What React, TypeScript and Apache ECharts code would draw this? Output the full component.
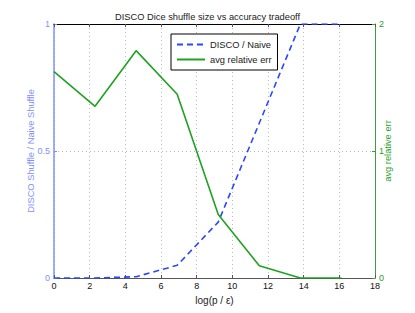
import React, { useEffect, useRef } from "react";
import * as echarts from "echarts";

const xValues = [0, 2.303, 4.605, 6.908, 9.21, 11.513, 13.816, 16.118];
const discoRatio = [0, 0, 0.005, 0.05, 0.22, 0.61, 1, 1];
const avgRelErr = [1.625, 1.352, 1.79, 1.447, 0.5, 0.097, 0, 0];
const xTicks = [0, 2, 4, 6, 8, 10, 12, 14, 16, 18];
const leftTicks = [0, 0.5, 1];
const rightTicks = [0, 1, 2];

const FONT = "Liberation Sans, Arial, Helvetica, sans-serif";
const BLUE = "#2a46ff";
const GREEN = "#1fa21f";
const LEFT_AXIS = "#7f8fff";
const RIGHT_AXIS = "#3e9e3e";

export default function App() {
  const ref = useRef<HTMLDivElement>(null);
  useEffect(() => {
    if (!ref.current) return;
    const chart = echarts.init(ref.current, null, { renderer: "svg" });
    chart.setOption({
      animation: false,
      backgroundColor: "#ffffff",
      title: {
        text: "DISCO Dice shuffle size vs accuracy tradeoff",
        left: "center",
        top: 7,
        textStyle: { fontFamily: FONT, fontSize: 9.3, fontWeight: "normal", color: "#222" },
      },
      legend: {
        orient: "vertical",
        left: 171,
        top: 34,
        itemWidth: 28,
        itemHeight: 10,
        itemGap: 6,
        padding: [6, 6, 6, 5],
        borderColor: "#000",
        borderWidth: 1,
        backgroundColor: "#fff",
        textStyle: { fontFamily: FONT, fontSize: 9.3, color: "#222" },
        itemStyle: { opacity: 0 },
        data: [
          { name: "DISCO / Naive", itemStyle: { opacity: 0 } },
          { name: "avg relative err", itemStyle: { opacity: 0 } },
        ],
      },
      grid: { left: 54, right: 40, top: 24, bottom: 35 },
      xAxis: [
        {
          type: "value",
          min: 0,
          max: 18,
          interval: 2,
          name: "log(p / ε)",
          nameLocation: "middle",
          nameGap: 17,
          nameMoveOverlap: false,
          nameTextStyle: { fontFamily: FONT, fontSize: 10, color: "#222" },
          axisLine: { show: true, onZero: false, lineStyle: { color: "#555", width: 1 } },
          axisTick: { show: true, inside: true, length: 3, lineStyle: { color: "#555" } },
          axisLabel: {
            fontFamily: FONT,
            fontSize: 9,
            color: "#111",
            margin: 3,
            formatter: (v: number) => (xTicks.includes(v) ? String(v) : ""),
          },
          splitLine: { show: true, lineStyle: { color: "#bbb", type: [1, 3], width: 1 } },
        },
        {
          type: "value",
          position: "top",
          min: 0,
          max: 18,
          interval: 2,
          axisLine: { show: true, onZero: false, lineStyle: { color: "#000", width: 1 } },
          axisTick: { show: true, inside: true, length: 3, lineStyle: { color: "#555" } },
          axisLabel: { show: false },
          splitLine: { show: false },
        },
      ],
      yAxis: [
        {
          type: "value",
          min: 0,
          max: 1,
          interval: 0.5,
          position: "left",
          name: "DISCO Shuffle / Naive Shuffle",
          nameLocation: "middle",
          nameRotate: 90,
          nameGap: 19,
          nameMoveOverlap: false,
          nameTextStyle: { fontFamily: FONT, fontSize: 9.3, color: LEFT_AXIS },
          axisLine: { show: true, onZero: false, lineStyle: { color: LEFT_AXIS, width: 1.5 } },
          axisTick: { show: true, inside: true, length: 3, lineStyle: { color: LEFT_AXIS } },
          axisLabel: {
            fontFamily: FONT,
            fontSize: 9,
            color: LEFT_AXIS,
            margin: 4,
            formatter: (v: number) => (leftTicks.includes(v) ? String(v) : ""),
          },
          splitLine: { show: true, lineStyle: { color: "#bbb", type: [1, 3], width: 1 } },
        },
        {
          type: "value",
          min: 0,
          max: 2,
          interval: 1,
          position: "right",
          name: "avg relative err",
          nameLocation: "middle",
          nameRotate: 90,
          nameGap: 8,
          nameMoveOverlap: false,
          nameTextStyle: { fontFamily: FONT, fontSize: 9.3, color: GREEN },
          axisLine: { show: true, onZero: false, lineStyle: { color: RIGHT_AXIS, width: 1 } },
          axisTick: { show: true, inside: true, length: 3, lineStyle: { color: RIGHT_AXIS } },
          axisLabel: {
            fontFamily: FONT,
            fontSize: 9,
            color: GREEN,
            margin: 4,
            formatter: (v: number) => (rightTicks.includes(v) ? String(v) : ""),
          },
          splitLine: { show: false },
        },
      ],
      series: [
        {
          name: "DISCO / Naive",
          type: "line",
          xAxisIndex: 0,
          yAxisIndex: 0,
          data: xValues.map((x, i) => [x, discoRatio[i]]),
          symbol: "none",
          clip: true,
          lineStyle: { color: BLUE, width: 1.6, type: [6, 4] },
          itemStyle: { color: BLUE },
          z: 3,
        },
        {
          name: "avg relative err",
          type: "line",
          xAxisIndex: 0,
          yAxisIndex: 1,
          data: xValues.map((x, i) => [x, avgRelErr[i]]),
          symbol: "none",
          clip: true,
          lineStyle: { color: GREEN, width: 1.6 },
          itemStyle: { color: GREEN },
          z: 3,
        },
      ],
    });
    return () => chart.dispose();
  }, []);
  return <div ref={ref} style={{ position: "absolute", left: 0, top: 0, width: 415, height: 313 }} />;
}
